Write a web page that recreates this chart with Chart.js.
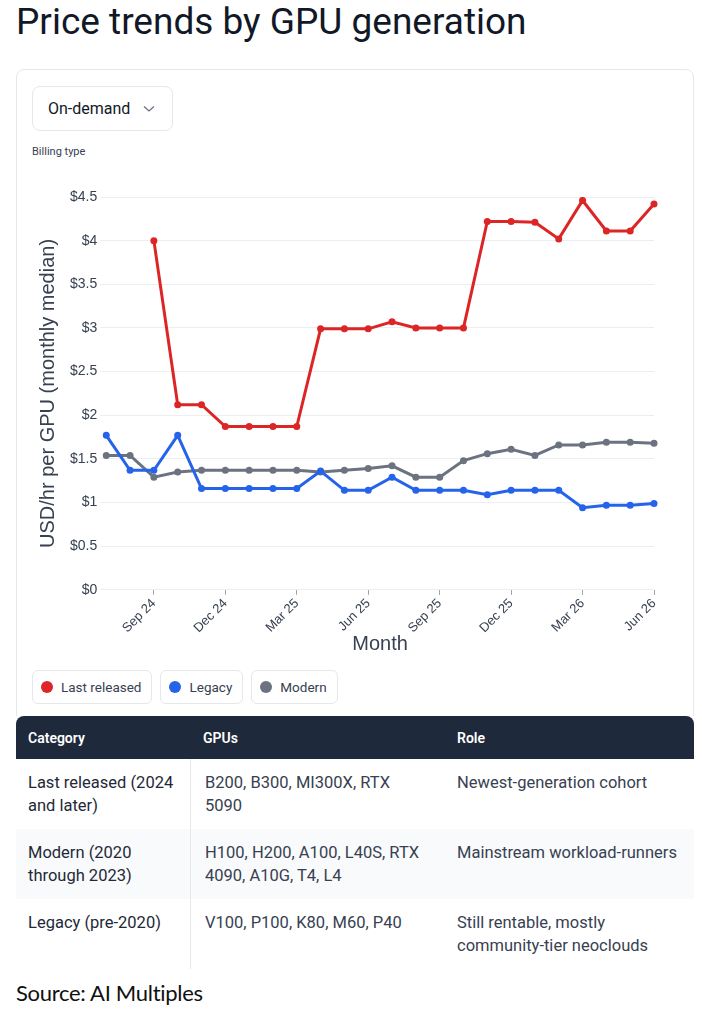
<!DOCTYPE html>
<html>
<head>
<meta charset="utf-8">
<script src="https://cdn.jsdelivr.net/npm/chart.js@4.4.1/dist/chart.umd.min.js"></script>
<style>
  html, body { margin: 0; padding: 0; background: #fff; }
  body { width: 702px; height: 1015px; position: relative; overflow: hidden; font-family: Roboto, 'Liberation Sans', Arial, sans-serif; color: #1f2937; }
  h1 { position: absolute; left: 16px; top: 0; margin: 0; font-size: 37px; line-height: 44px; font-weight: 400; color: #111827; }
  .card { position: absolute; left: 16px; top: 69px; width: 676px; height: 660px; border: 1px solid #e5e7eb; border-radius: 8px; }
  .select { position: absolute; left: 32px; top: 86px; width: 139px; height: 43px; border: 1px solid #e5e7eb; border-radius: 8px; }
  .select span { position: absolute; left: 15px; top: 12px; font-size: 16px; line-height: 20px; color: #111827; }
  .select svg { position: absolute; left: 110px; top: 18px; }
  .billing { position: absolute; left: 32px; top: 145px; font-size: 11px; line-height: 14px; color: #374151; }
  .chart-wrap { position: absolute; left: 20px; top: 170px; width: 674px; height: 488px; }
  .legend { position: absolute; left: 32px; top: 670px; display: flex; gap: 8px; }
  .legend div { height: 32px; border: 1px solid #e5e7eb; border-radius: 6px; padding: 0 10px 0 8px; display: flex; align-items: center; font-size: 13.5px; color: #374151; }
  .legend i { width: 12px; height: 12px; border-radius: 50%; margin-right: 8px; display: inline-block; }
  table { position: absolute; left: 16px; top: 716px; width: 678px; border-collapse: separate; border-spacing: 0; font-size: 16.5px; z-index: 2; background: #fff; }
  th { background: #1e293b; color: #fff; text-align: left; font-weight: 600; font-size: 14px; height: 43px; padding: 0 12px; box-sizing: border-box; }
  th:first-child { border-top-left-radius: 8px; }
  th:last-child { border-top-right-radius: 8px; }
  td { vertical-align: top; padding: 12px 12px; line-height: 23px; height: 46px; color: #374151; }
  td:first-child { color: #1f2937; border-right: 1px solid #e5e7eb; }
  td:nth-child(2) { padding-left: 14px; padding-right: 20px; }
  tr.alt td { background: #f9fafb; }
  .source { position: absolute; left: 16px; top: 979px; font-family: Lato, 'Open Sans', sans-serif; font-size: 22px; line-height: 28px; color: #111; letter-spacing: -0.3px; }
</style>
</head>
<body>
<h1>Price trends by GPU generation</h1>
<div class="card"></div>
<div class="select"><span>On-demand</span>
  <svg width="12" height="8" viewBox="0 0 12 8"><path d="M1 1.5 L6 6 L11 1.5" fill="none" stroke="#6b7280" stroke-width="1.3"/></svg>
</div>
<div class="billing">Billing type</div>
<div class="chart-wrap"><canvas id="priceChart"></canvas></div>
<div class="legend" id="legend"></div>

<table>
  <thead>
    <tr><th style="width:175px">Category</th><th style="width:254px">GPUs</th><th>Role</th></tr>
  </thead>
  <tbody>
    <tr><td>Last released (2024 and later)</td><td>B200, B300, MI300X, RTX 5090</td><td>Newest-generation cohort</td></tr>
    <tr class="alt"><td>Modern (2020 through 2023)</td><td>H100, H200, A100, L40S, RTX 4090, A10G, T4, L4</td><td>Mainstream workload-runners</td></tr>
    <tr><td>Legacy (pre-2020)</td><td>V100, P100, K80, M60, P40</td><td>Still rentable, mostly community-tier neoclouds</td></tr>
  </tbody>
</table>
<div class="source">Source: AI Multiples</div>

<script>
'use strict';

const MONTHS = [
  'Jul 24', 'Aug 24', 'Sep 24', 'Oct 24', 'Nov 24', 'Dec 24',
  'Jan 25', 'Feb 25', 'Mar 25', 'Apr 25', 'May 25', 'Jun 25',
  'Jul 25', 'Aug 25', 'Sep 25', 'Oct 25', 'Nov 25', 'Dec 25',
  'Jan 26', 'Feb 26', 'Mar 26', 'Apr 26', 'May 26', 'Jun 26',
];
const SHOWN_MONTHS = ['Sep', 'Dec', 'Mar', 'Jun'];

const LAST_RELEASED = [null, null, 4.00, 2.12, 2.12, 1.87, 1.87, 1.87, 1.87, 2.99, 2.99, 2.99,
                       3.07, 3.00, 3.00, 3.00, 4.22, 4.22, 4.21, 4.02, 4.46, 4.11, 4.11, 4.42];
const LEGACY        = [1.77, 1.37, 1.37, 1.77, 1.16, 1.16, 1.16, 1.16, 1.16, 1.36, 1.14, 1.14,
                       1.29, 1.14, 1.14, 1.14, 1.09, 1.14, 1.14, 1.14, 0.94, 0.97, 0.97, 0.99];
const MODERN        = [1.54, 1.54, 1.29, 1.35, 1.37, 1.37, 1.37, 1.37, 1.37, 1.35, 1.37, 1.39,
                       1.42, 1.29, 1.29, 1.48, 1.56, 1.61, 1.54, 1.66, 1.66, 1.69, 1.69, 1.68];

const SERIES = [
  { label: 'Last released', data: LAST_RELEASED, color: '#dc2626' },
  { label: 'Legacy',        data: LEGACY,        color: '#2563eb' },
  { label: 'Modern',        data: MODERN,        color: '#6b7280' },
];

document.addEventListener('DOMContentLoaded', () => {
  buildLegend();
  drawChart();
});

function buildLegend() {
  document.getElementById('legend').innerHTML = SERIES.map((s) =>
    `<div><i style="background:${s.color}"></i>${s.label}</div>`).join('');
}

function drawChart() {
  const ctx = document.getElementById('priceChart').getContext('2d');

  new Chart(ctx, {
    type: 'line',
    data: {
      labels: MONTHS,
      datasets: SERIES.map((s) => ({
        label: s.label,
        data: s.data,
        borderColor: s.color,
        backgroundColor: s.color,
        borderWidth: 3,
        pointRadius: 3.5,
        pointBorderWidth: 0,
        tension: 0,
      })),
    },
    options: {
      responsive: true,
      maintainAspectRatio: false,
      animation: false,
      layout: { padding: { left: 12, right: 40, top: 27, bottom: 0 } },
      plugins: {
        legend: { display: false },
        tooltip: { enabled: false },
      },
      scales: {
        x: {
          border: { display: false },
          grid: { drawOnChartArea: false, color: '#9ca3af', tickLength: 5 },
          ticks: {
            autoSkip: false,
            minRotation: 45,
            maxRotation: 45,
            padding: 1,
            color: '#374151',
            font: { size: 13 },
            // only quarter-end months get a label and a tick mark
            callback: (val, idx) => {
              const lbl = MONTHS[idx];
              return SHOWN_MONTHS.includes(lbl.slice(0, 3)) ? lbl : null;
            },
          },
          title: {
            display: true,
            text: 'Month',
            color: '#374151',
            font: { size: 20, lineHeight: 1 },
            padding: { top: -3, bottom: 4 },
          },
        },
        y: {
          min: 0,
          max: 4.5,
          border: { display: false },
          grid: { color: '#eceef2', tickLength: 6 },
          ticks: {
            stepSize: 0.5,
            color: '#374151',
            font: { size: 14 },
            callback: (v) => `$${v}`,
          },
          title: {
            display: true,
            text: 'USD/hr per GPU (monthly median)',
            color: '#374151',
            font: { size: 20 },
            padding: { top: 4, bottom: 7 },
          },
        },
      },
    },
  });
}
</script>
</body>
</html>
